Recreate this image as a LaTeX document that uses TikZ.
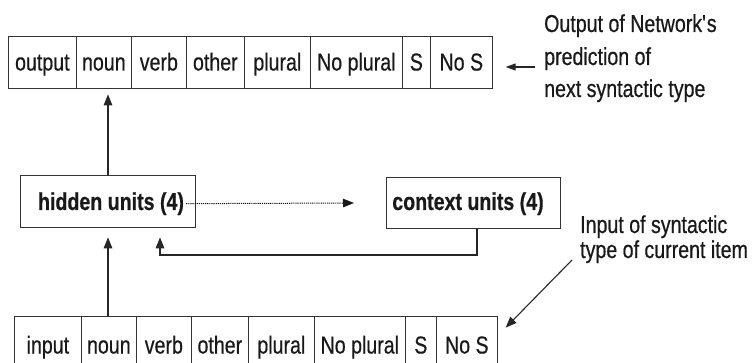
\documentclass[tikz,border=0pt]{standalone}
\usepackage{fontspec}
\setmainfont{Liberation Sans}[FakeStretch=0.8, FakeBold=0.5]
\usetikzlibrary{arrows.meta}

\begin{document}
\begin{tikzpicture}[x=1pt,y=-1pt,
  txt/.style={text=black!90, font=\fontsize{24.5}{28}\selectfont},
  cell/.style={txt, draw=black!80, line width=0.7pt, anchor=west, inner sep=0pt,
    text height=17pt, text depth=0pt},
  toprow/.style={cell, minimum height=52pt},
  botrow/.style={cell, minimum height=58pt},
  unitbox/.style={draw=black!80, line width=0.7pt, inner sep=0pt},
  unitlabel/.style={txt, font=\fontsize{24.5}{28}\selectfont\bfseries, inner sep=0pt, anchor=base},
  note/.style={txt, inner sep=0pt, anchor=base west},
  conn/.style={draw=black!85, line width=1.1pt, -{Triangle[length=11pt,width=8.5pt]}},
  smallconn/.style={draw=black!85, line width=1.1pt, -{Triangle[length=10pt,width=7pt]}},
  copyline/.style={draw=black!90, line width=1pt, dash pattern=on 1.2pt off 0.9pt,
    -{Triangle[length=11pt,width=8.5pt]}}
]
\useasboundingbox (0,0) rectangle (755,363);
\fill[white] (0,0) rectangle (755,363);

% output layer
\node[toprow, minimum width=68pt] (o1) at (8,62)   {output};
\node[toprow, minimum width=55pt] (o2) at (76,62)  {noun};
\node[toprow, minimum width=55pt] (o3) at (131,62) {verb};
\node[toprow, minimum width=58pt] (o4) at (186,62) {other};
\node[toprow, minimum width=66pt] (o5) at (244,62) {plural};
\node[toprow, minimum width=92pt] (o6) at (310,62) {No plural};
\node[toprow, minimum width=28pt] (o7) at (402,62) {S};
\node[toprow, minimum width=62pt] (o8) at (430,62) {No S};

% input layer
\node[botrow, minimum width=67pt] (i1) at (14,345)  {input};
\node[botrow, minimum width=55pt] (i2) at (81,345)  {noun};
\node[botrow, minimum width=55pt] (i3) at (136,345) {verb};
\node[botrow, minimum width=57pt] (i4) at (191,345) {other};
\node[botrow, minimum width=66pt] (i5) at (248,345) {plural};
\node[botrow, minimum width=91pt] (i6) at (314,345) {No plural};
\node[botrow, minimum width=31pt] (i7) at (405,345) {S};
\node[botrow, minimum width=61pt] (i8) at (436,345) {No S};

% hidden and context units
\node[unitbox, minimum width=175pt, minimum height=52pt] (hidden) at (108,201) {};
\node[unitlabel] (hiddentxt) at (111,210) {hidden units (4)};
\node[unitbox, minimum width=174pt, minimum height=51pt] (context) at (473,202.5) {};
\node[unitlabel] (contexttxt) at (468,210) {context units (4)};

% side notes
\node[note] (outA) at (544,32) {Output of Network\textquotesingle s};
\node[note] (outB) at (544,65) {prediction of};
\node[note] (outC) at (544,97) {next syntactic type};
\node[note] (inA) at (580,233) {Input of syntactic};
\node[note] (inB) at (580,258) {type of current item};

% connections
\draw[conn] (hidden.north) -- ([yshift=-6pt]hidden.north |- o2.south);
\draw[conn] (hidden.south |- i2.north) -- ([yshift=-10pt]hidden.south);
\coordinate (copytip) at (354,203);
\draw[copyline] ([xshift=2pt]hiddentxt.east) -- (copytip);
\coordinate (fbcorner) at (160,255);
\draw[conn] ([xshift=4pt]context.south) |- (fbcorner)
  -- ([yshift=-10pt]hidden.south -| fbcorner);

% pointers from the notes
\coordinate (outptr) at (535,67);
\draw[smallconn] (outptr) -- ([xshift=13pt]o8.east |- outptr);
\coordinate (inptr) at (572,260);
\draw[conn] (inptr) -- ([xshift=8pt,yshift=-12pt]i8.north east);
\end{tikzpicture}
\end{document}
